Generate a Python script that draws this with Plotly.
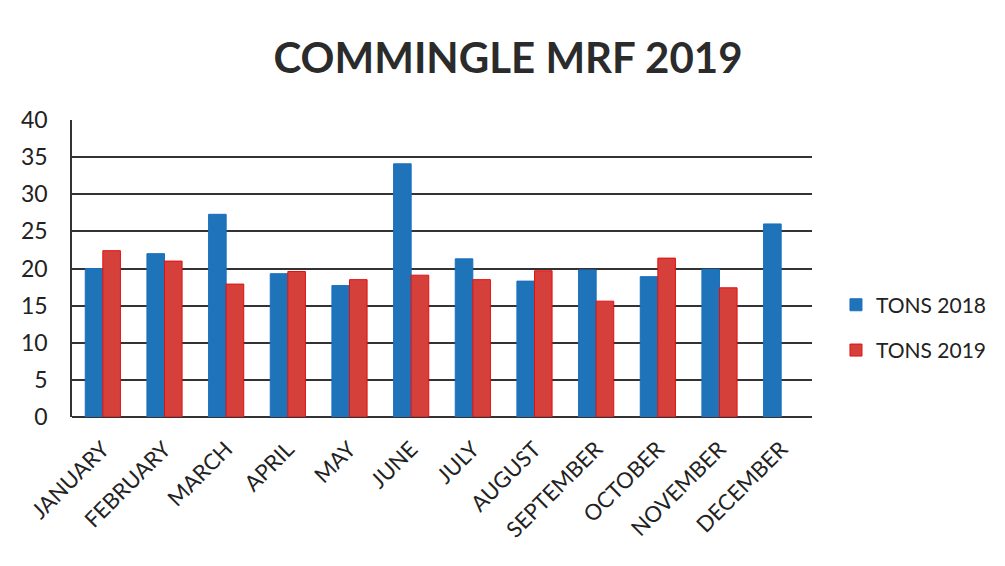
import plotly.graph_objects as go

months = ["JANUARY", "FEBRUARY", "MARCH", "APRIL", "MAY", "JUNE", "JULY",
          "AUGUST", "SEPTEMBER", "OCTOBER", "NOVEMBER", "DECEMBER"]
tons_2018 = [20.0, 22.0, 27.3, 19.3, 17.7, 34.1, 21.3, 18.3, 19.8, 18.9, 19.9, 26.0]
tons_2019 = [22.4, 21.0, 17.9, 19.6, 18.5, 19.1, 18.5, 19.7, 15.6, 21.4, 17.4, None]
y_ticks = [0, 5, 10, 15, 20, 25, 30, 35, 40]

font_family = "Lato, 'Open Sans', sans-serif"

fig = go.Figure()
fig.add_trace(go.Bar(x=months, y=tons_2018, name="TONS 2018", legendgroup="a",
                     marker=dict(color="#1f73b9", line=dict(color="#1a6fc0", width=1))))
fig.add_trace(go.Bar(x=months, y=tons_2019, name="TONS 2019", legendgroup="b",
                     marker=dict(color="#d6403b", line=dict(color="#e01010", width=1))))

fig.update_layout(
    width=1005, height=566,
    paper_bgcolor="white", plot_bgcolor="white",
    margin=dict(l=64, r=201, t=112, b=157),
    barmode="group", bargap=0.43, bargroupgap=0,
    title=dict(text="<b>COMMINGLE MRF 2019</b>", x=0.4975, xanchor="center", y=0.912, yanchor="middle",
               font=dict(family=font_family, size=42, color="#2b2b2b")),
    font=dict(family=font_family, color="#222"),
    legend=dict(x=1.0324, y=0.301, xanchor="left", yanchor="middle",
                font=dict(size=21, color="#222"), tracegroupgap=15, itemwidth=30),
    showlegend=True,
)
fig.update_xaxes(tickangle=-45, tickfont=dict(size=22, color="#222"), showline=False,
                 ticks="", showgrid=False, automargin=False, ticklabelstandoff=14)
fig.update_yaxes(range=[0, 40], tickvals=y_ticks, tickfont=dict(size=23, color="#222"),
                 showgrid=True, gridcolor="#333", gridwidth=1.5, showline=True,
                 linecolor="#333", linewidth=1.5, ticks="", automargin=False,
                 ticklabelstandoff=18,
                 zeroline=True, zerolinecolor="#333", zerolinewidth=1.5)

fig.write_html("out.html")
